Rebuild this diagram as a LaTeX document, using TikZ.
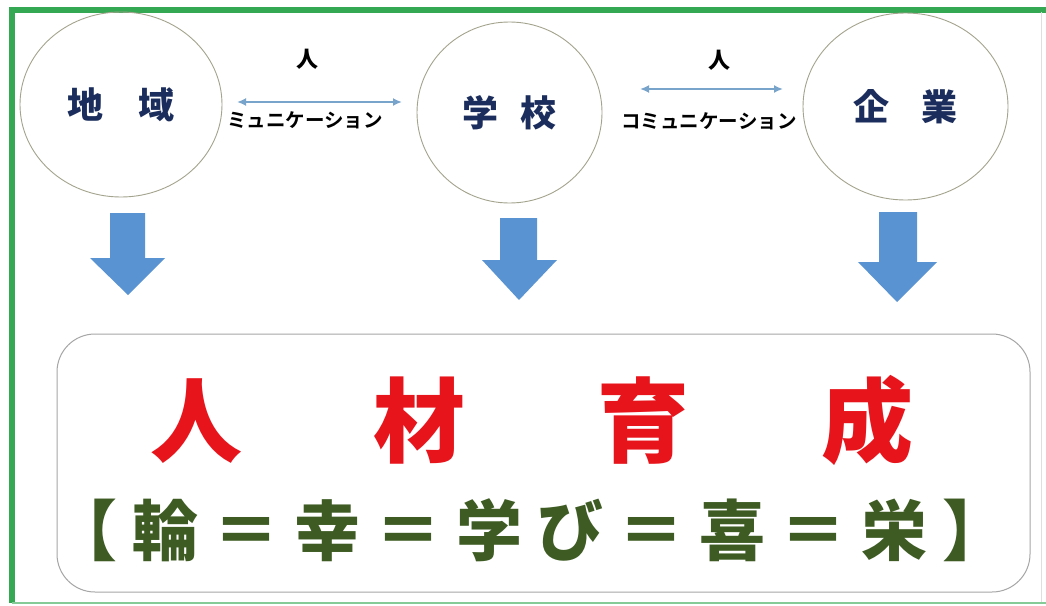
\documentclass[tikz,border=0pt]{standalone}
\usepackage{fontspec}
\newfontfamily\jp{Noto Sans CJK JP}[BoldFont={Noto Sans CJK JP Bold}]
\newfontfamily\jpheavy{Noto Sans CJK JP Black}
\usetikzlibrary{shapes.geometric,arrows.meta}
\definecolor{framegreen}{HTML}{34A853}
\definecolor{navy}{HTML}{1B2D5C}
\definecolor{linkblue}{HTML}{78A3CB}
\definecolor{arrowblue}{HTML}{5A93D2}
\definecolor{bigred}{HTML}{E8141C}
\definecolor{darkgreen}{HTML}{3D5B22}
\definecolor{circgray}{HTML}{A4A48E}
\tikzset{
  place/.style={ellipse, draw=circgray, line width=0.9pt, inner sep=0pt,
    font=\jpheavy\fontsize{36}{36}\selectfont, text=navy},
  link/.style={draw=linkblue, line width=1.8pt, {Latex[length=9pt,width=8pt]}-{Latex[length=9pt,width=8pt]}},
  smalltxt/.style={font=\jp\bfseries\fontsize{19.5}{19.5}\selectfont, text=black, inner sep=0pt},
  hito/.style={font=\jpheavy\fontsize{22}{22}\selectfont, text=black, inner sep=0pt},
  downarrow/.style={fill=arrowblue, draw=none},
}
\begin{document}
\begin{tikzpicture}[x=1pt,y=-1pt]
\useasboundingbox (0,0) rectangle (1046,605);
\fill[white] (0,0) rectangle (1046,605);
% frame
\draw[framegreen, line width=6pt] (12,603) -- (12,10) -- (1046,10);
\draw[framegreen!60, line width=2pt] (12,603) -- (1046,603);
\draw[gray!25, line width=1pt] (1041,12) -- (1041,602);
% circles
\node[place, minimum width=202pt, minimum height=185pt] (chiiki) at (121,104.5) {地\kern35pt 域};
\node[place, minimum width=185pt, minimum height=181pt] (gakko) at (509.5,112.5) {学\kern23pt 校};
\node[place, minimum width=205pt, minimum height=187pt] (kigyo) at (905.5,106.5) {企\kern32pt 業};
% links
\coordinate (l1a) at (237,102);
\coordinate (l1b) at (402,102);
\coordinate (l2a) at (640,89);
\coordinate (l2b) at (783,89);
\draw[link] (l1a) -- (l1b);
\draw[link] (l2a) -- (l2b);
\node[hito] (h1) at (307,59) {人};
\node[hito] (h2) at (719,60) {人};
\node[smalltxt] (c1) at (305,120) {ミュニケーション};
\node[smalltxt] (c2) at (709,121) {コミュニケーション};
% down arrows
\fill[downarrow] (110,213) -- (145,213) -- (145,258) -- (165,258) -- (128,295) -- (90,258) -- (110,258) -- cycle;
\fill[downarrow] (500,218) -- (537,218) -- (537,260) -- (557,260) -- (519,300) -- (482,260) -- (500,260) -- cycle;
\fill[downarrow] (879,212) -- (917,212) -- (917,262) -- (937,262) -- (897,302) -- (858,262) -- (879,262) -- cycle;
% result box
\node[draw=gray!70, line width=1pt, rounded corners=38pt, minimum width=973pt, minimum height=258pt, inner sep=0pt] (box) at (543.5,463) {};
\node[font=\jpheavy\fontsize{92}{92}\selectfont, text=bigred, inner sep=0pt] (jinzai) at (532,420) {人\kern132pt 材\kern132pt 育\kern132pt 成};
\node[font=\jpheavy\fontsize{66}{66}\selectfont, text=darkgreen, inner sep=0pt] (motto) at (530,530)
  {【\kern15pt 輪\kern15pt ＝\kern15pt 幸\kern15pt ＝\kern15pt 学\kern15pt び\kern15pt ＝\kern15pt 喜\kern15pt ＝\kern15pt 栄\kern15pt 】};
\end{tikzpicture}
\end{document}
